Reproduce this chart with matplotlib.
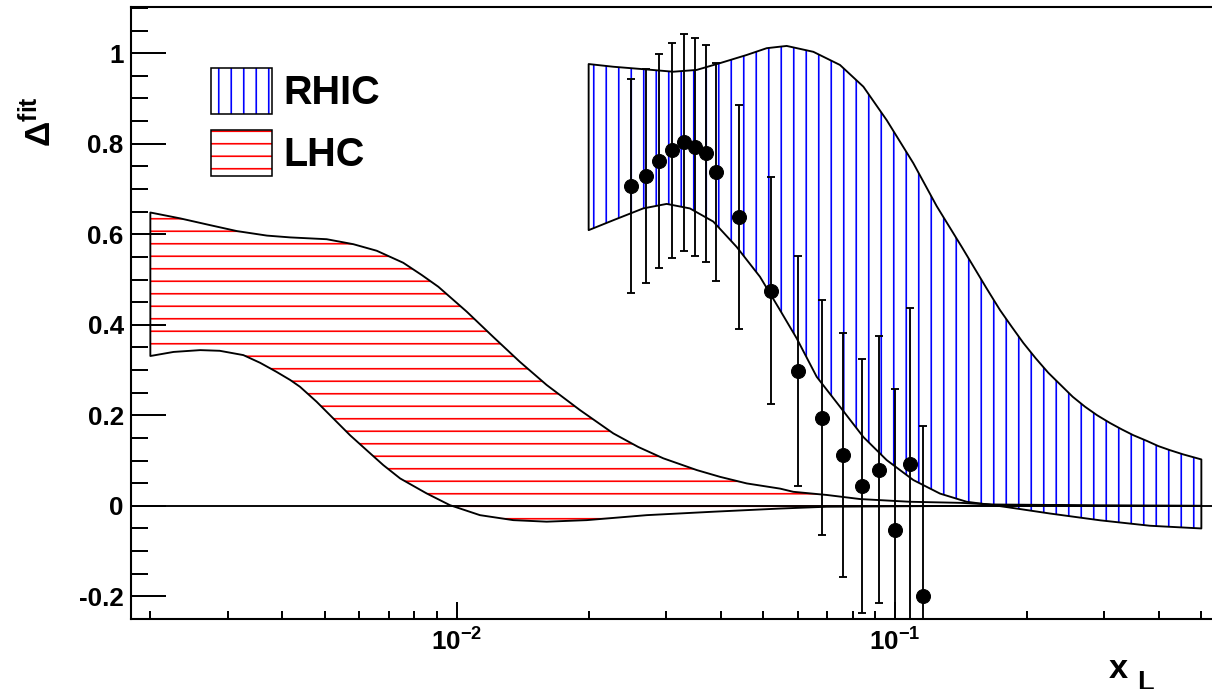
import numpy as np
import matplotlib
matplotlib.use("Agg")
import matplotlib.pyplot as plt
from matplotlib.patches import Patch
from matplotlib.ticker import LogLocator, NullFormatter, FixedLocator, FixedFormatter

plt.rcParams['font.family'] = ['Liberation Sans', 'DejaVu Sans']
plt.rcParams['font.weight'] = 'bold'
plt.rcParams['mathtext.fontset'] = 'custom'
plt.rcParams['mathtext.rm'] = 'Liberation Sans:bold'
plt.rcParams['mathtext.bf'] = 'Liberation Sans:bold'
plt.rcParams['mathtext.it'] = 'Liberation Sans:bold'
plt.rcParams['hatch.linewidth'] = 1.6

# ---------------- data ----------------
# LHC band
lhc_up_x = [0.0020, 0.00234, 0.00274, 0.00315, 0.00369, 0.00417, 0.00505, 0.00581, 0.00657,
            0.00755, 0.00832, 0.00908, 0.01054, 0.01212, 0.01394, 0.01604, 0.01911, 0.02277,
            0.02596, 0.0296, 0.0353, 0.0399, 0.0459, 0.0547, 0.0586, 0.0699, 0.0832, 0.108,
            0.141, 0.168, 0.294, 0.50]
lhc_up_y = [0.648, 0.635, 0.620, 0.607, 0.597, 0.593, 0.589, 0.578, 0.5635,
            0.537, 0.510, 0.484, 0.429, 0.373, 0.318, 0.267, 0.2115, 0.160,
            0.130, 0.105, 0.079, 0.064, 0.0495, 0.038, 0.031, 0.024, 0.015, 0.009,
            0.0066, 0.003, 0.001, 0.000]
lhc_lo_x = [0.0020, 0.00226, 0.0026, 0.00288, 0.00326, 0.00356, 0.00388, 0.00417, 0.00439,
            0.00479, 0.00523, 0.00571, 0.00623, 0.0068, 0.00743, 0.00854, 0.00965, 0.0113,
            0.01346, 0.01604, 0.0198, 0.02713, 0.03849, 0.05465, 0.06985, 0.15, 0.50]
lhc_lo_y = [0.331, 0.340, 0.344, 0.3425, 0.333, 0.316, 0.296, 0.278, 0.263,
            0.230, 0.193, 0.156, 0.123, 0.090, 0.0605, 0.0274, 0.0015, -0.0206,
            -0.0316, -0.035, -0.0316, -0.0206, -0.013, -0.006, -0.002, 0.0, 0.0]

# RHIC band
rhic_up_x = [0.0200, 0.02277, 0.02713, 0.03119, 0.03528, 0.03988, 0.04587, 0.05096, 0.0566,
             0.06512, 0.07489, 0.08469, 0.09574, 0.1101, 0.1245, 0.142, 0.1619, 0.1736,
             0.1845, 0.1962, 0.2094, 0.2237, 0.2388, 0.2543, 0.2713, 0.2893, 0.3094,
             0.3290, 0.3498, 0.3752, 0.3988, 0.4239, 0.4547, 0.50]
rhic_up_y = [0.976, 0.970, 0.964, 0.959, 0.963, 0.978, 0.996, 1.011, 1.016,
             1.003, 0.974, 0.926, 0.852, 0.757, 0.662, 0.572, 0.480, 0.4325,
             0.396, 0.360, 0.326, 0.294, 0.267, 0.241, 0.219, 0.200, 0.183,
             0.169, 0.156, 0.1436, 0.132, 0.123, 0.1136, 0.1025]
rhic_lo_x = [0.0200, 0.02277, 0.02663, 0.03013, 0.03405, 0.03849, 0.04352, 0.0492, 0.05465,
             0.05966, 0.06628, 0.07489, 0.08469, 0.09574, 0.1101, 0.1267, 0.1457, 0.1676,
             0.1895, 0.2258, 0.2938, 0.3818, 0.50]
rhic_lo_y = [0.609, 0.631, 0.657, 0.667, 0.657, 0.628, 0.572, 0.506, 0.4325,
             0.370, 0.285, 0.219, 0.152, 0.101, 0.057, 0.027, 0.009, 0.0015,
             -0.006, -0.017, -0.032, -0.044, -0.050]

# data points
pts_x = [0.025, 0.027, 0.029, 0.031, 0.033, 0.035, 0.037, 0.039, 0.044, 0.052,
         0.060, 0.068, 0.076, 0.084, 0.092, 0.100, 0.108, 0.116]
pts_y = [0.7065, 0.729, 0.762, 0.785, 0.803, 0.793, 0.779, 0.7375, 0.638, 0.475,
         0.298, 0.1945, 0.112, 0.044, 0.0796, -0.054, 0.093, -0.200]
pts_err = [0.237, 0.237, 0.237, 0.238, 0.239, 0.240, 0.240, 0.241, 0.247, 0.251,
           0.255, 0.260, 0.270, 0.280, 0.295, 0.313, 0.344, 0.376]

labels = ["RHIC", "LHC"]
band_colors = ["#0000ff", "#ff0000"]

# ---------------- figure ----------------
W, H, DPI = 1212, 689, 75
fig = plt.figure(figsize=(W / DPI, H / DPI), dpi=DPI)
ax = fig.add_axes([131 / W, (H - 619) / H, (1215 - 131) / W, (619 - 7) / H])
ax.set_xscale('log')
ax.set_xlim(10 ** -2.7431, 10 ** -0.2699)
ax.set_ylim(-0.25, 1.102)

def band(xu, yu, xl, yl, color, hatch):
    px = np.concatenate([np.asarray(xu), np.asarray(xl)[::-1]])
    py = np.concatenate([np.asarray(yu), np.asarray(yl)[::-1]])
    ax.fill(px, py, facecolor='none', edgecolor=color, hatch=hatch, linewidth=0, zorder=1)
    ax.fill(px, py, fill=False, edgecolor='black', linewidth=1.8, zorder=3,
            joinstyle='round')

band(lhc_up_x, lhc_up_y, lhc_lo_x, lhc_lo_y, band_colors[1], '-')
band(rhic_up_x, rhic_up_y, rhic_lo_x, rhic_lo_y, band_colors[0], '|')

ax.axhline(0, color='black', lw=1.8, zorder=2)

ax.errorbar(pts_x, pts_y, yerr=pts_err, fmt='o', color='black', ms=13.4,
            elinewidth=1.8, capsize=3.6, capthick=1.8, zorder=5)

# spines / ticks
for s in ['left', 'bottom', 'top']:
    ax.spines[s].set_linewidth(2.0)
ax.spines['right'].set_visible(False)

ax.yaxis.set_major_locator(FixedLocator([-0.2, 0, 0.2, 0.4, 0.6, 0.8, 1.0]))
ax.yaxis.set_major_formatter(FixedFormatter(['-0.2', '0', '0.2', '0.4', '0.6', '0.8', '1']))
ax.yaxis.set_minor_locator(FixedLocator(np.arange(-0.25, 1.101, 0.05)))
ax.xaxis.set_minor_locator(LogLocator(base=10, subs=np.arange(2, 10), numticks=20))
ax.xaxis.set_minor_formatter(NullFormatter())
ax.set_xticks([0.01, 0.1])
ax.set_xticklabels([r'$\mathbf{10^{-2}}$', r'$\mathbf{10^{-1}}$'])

ax.tick_params(axis='y', which='major', direction='in', length=33.6, width=1.9,
               labelsize=25, pad=7, right=False)
ax.tick_params(axis='y', which='minor', direction='in', length=16.3, width=1.9, right=False)
ax.tick_params(axis='x', which='major', direction='in', length=16.5, width=1.9,
               labelsize=25, pad=9, top=False)
ax.tick_params(axis='x', which='minor', direction='in', length=8, width=1.9, top=False)
for lab in ax.get_yticklabels() + ax.get_xticklabels():
    lab.set_fontweight('bold')

# axis titles
fig.text(40 / W, 1 - 96 / H, r'$\mathbf{\Delta^{fit}}$', rotation=90, ha='center', va='top',
         fontsize=34)
fig.text(1109 / W, 1 - 678 / H, 'x', fontsize=33, fontweight='bold', ha='left', va='baseline')
fig.text(1137 / W, 1 - 670 / H, 'L', fontsize=26, fontweight='bold', ha='left', va='top')

# legend
h_rhic = (Patch(facecolor='none', edgecolor=band_colors[0], hatch='|', lw=0),
          Patch(facecolor='none', edgecolor='black', lw=1.5))
h_lhc = (Patch(facecolor='none', edgecolor=band_colors[1], hatch='-', lw=0),
         Patch(facecolor='none', edgecolor='black', lw=1.5))
leg = ax.legend([h_rhic, h_lhc], labels, loc='upper left',
                bbox_to_anchor=(211 / W, 1 - 68 / H), bbox_transform=fig.transFigure,
                frameon=False, borderpad=0, borderaxespad=0,
                handlelength=1.55, handleheight=1.42, handletextpad=0.28,
                labelspacing=0.40, prop={'weight': 'bold', 'size': 38})

fig.savefig('out.png', dpi=DPI)
